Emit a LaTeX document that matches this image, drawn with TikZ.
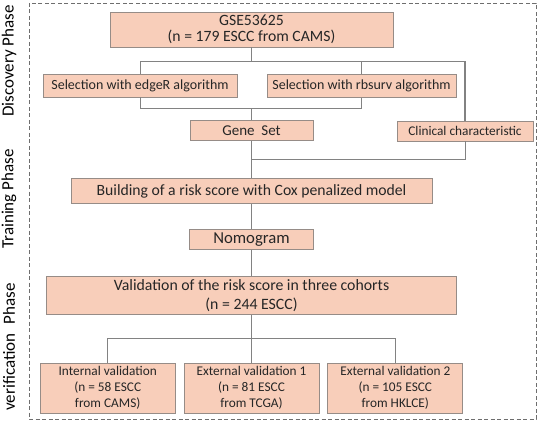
\documentclass[tikz,border=0pt]{standalone}
\usepackage{fontspec}
\setmainfont{Carlito}
\usetikzlibrary{positioning, calc}
\definecolor{StepFill}{RGB}{248,206,186}
\definecolor{StepEdge}{RGB}{150,140,135}
\definecolor{LinkGray}{RGB}{130,130,130}
\definecolor{FrameGray}{RGB}{110,110,110}
\tikzset{
  box/.style={rectangle, draw=StepEdge, fill=StepFill, line width=0.8pt,
    align=center, inner sep=0pt, text=black!85, font=\fontsize{14}{16}\selectfont},
  bigbox/.style={box, font=\fontsize{15.8}{19}\selectfont},
  cohort/.style={box, minimum width=135pt, minimum height=50pt, font=\fontsize{13.3}{16}\selectfont},
  link/.style={draw=LinkGray, line width=0.8pt},
  phase/.style={rotate=90, font=\fontsize{17}{19}\selectfont},
  frame/.style={draw=FrameGray, line width=0.8pt, dash pattern=on 4pt off 2.5pt},
}

\begin{document}
\begin{tikzpicture}[x=1pt, y=-1pt]
    \useasboundingbox (0,0) rectangle (540,422);
    \draw[frame] (29,3) rectangle (536,419);
    % discovery
    \node[box, font=\fontsize{15.7}{16.5}\selectfont, minimum width=283pt, minimum height=35pt] (gse) at (251.5,29.5) {GSE53625\\(n = 179 ESCC from CAMS)};
    \node[box, minimum width=194pt, minimum height=23pt] (edger) at (140,85.5) {Selection with edgeR algorithm};
    \node[box, minimum width=189pt, minimum height=23pt] (rbsurv) at (361.5,86) {Selection with rbsurv algorithm};
    \node[box, font=\fontsize{15}{17}\selectfont, minimum width=123pt, minimum height=20pt, below=73pt of gse] (gene) {Gene\ \ Set};
    \node[box, font=\fontsize{13.3}{15}\selectfont, minimum width=136pt, minimum height=20pt] (clin) at (465,131) {Clinical characteristic};
    % training
    \node[bigbox, font=\fontsize{15.7}{17}\selectfont, minimum width=361pt, minimum height=25pt, below=37pt of gene] (build) {Building of a risk score with Cox penalized model};
    \node[bigbox, font=\fontsize{16.7}{18}\selectfont, minimum width=124pt, minimum height=20pt, below=25pt of build] (nomo) {Nomogram};
    % verification
    \node[bigbox, minimum width=410pt, minimum height=38pt, below=26pt of nomo] (valid) {Validation of the risk score in three cohorts\\(n = 244 ESCC)};
    \node[cohort, below=48pt of valid] (ext1) {External validation 1\\(n = 81 ESCC\\from TCGA)};
    \node[cohort, left=8pt of ext1] (int) {Internal validation\\(n = 58 ESCC\\from CAMS)};
    \node[cohort, right=8pt of ext1] (ext2) {External validation 2\\(n = 105 ESCC\\from HKLCE)};
    % phases
    \node[phase] (disc) at (9,61) {Discovery Phase};
    \node[phase] (train) at (9,199) {Training Phase};
    \node[phase] (verif) at (9,347) {verification\hspace{9pt}Phase};
    % connectors
    \coordinate (splitA) at ($(gse.south)+(0,14)$);
    \coordinate (splitB) at ($(gene.north)+(0,-12)$);
    \coordinate (splitC) at ($(build.north)+(0,-19)$);
    \coordinate (splitD) at ($(valid.south)+(0,24)$);
    \draw[link] (gse.south) -- (splitA);
    \draw[link] (edger.north) |- (splitA);
    \draw[link, line width=1.2pt] (splitA) -| (clin.north);
    \draw[link] (rbsurv.north) -- (rbsurv.north |- splitA);
    \draw[link] (edger.south) |- (splitB) -| (rbsurv.south);
    \draw[link] (splitB) -- (gene.north);
    \draw[link] (gene.south) -- (build.north);
    \draw[link] (clin.south) |- (splitC);
    \draw[link] (build.south) -- (nomo.north);
    \draw[link] (nomo.south) -- (valid.north);
    \draw[link] (valid.south) -- (splitD);
    \draw[link] (int.north) |- (splitD) -| (ext2.north);
    \draw[link] (splitD) -- (ext1.north);
\end{tikzpicture}
\end{document}
